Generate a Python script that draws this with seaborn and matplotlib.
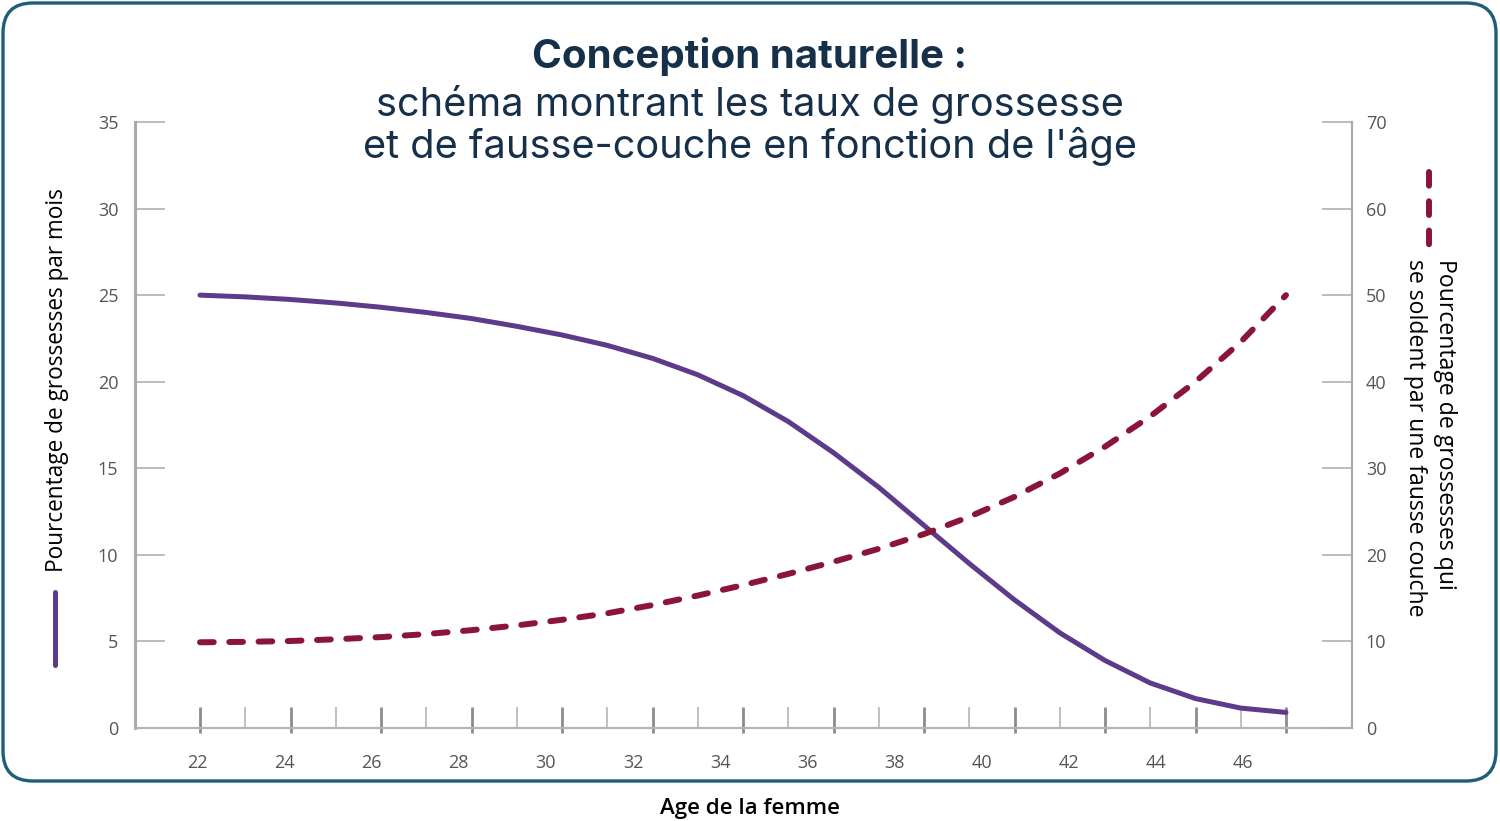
import numpy as np
import pandas as pd
import seaborn as sns
import matplotlib
matplotlib.use("Agg")
import matplotlib.pyplot as plt
from matplotlib.lines import Line2D
from matplotlib.patches import FancyBboxPatch
from matplotlib.transforms import IdentityTransform
from matplotlib import font_manager

# ---------------- data ----------------
ages = [22, 23, 24, 25, 26, 27, 28, 29, 30, 31, 32, 33, 34, 35, 36, 37, 38, 39, 40, 41, 42, 43, 44, 45, 46]
pregnancy_rate = [25.0, 24.9, 24.75, 24.55, 24.3, 24.0, 23.65, 23.2, 22.7, 22.1, 21.35, 20.4, 19.2, 17.7, 15.9,
                  13.9, 11.7, 9.5, 7.4, 5.5, 3.9, 2.6, 1.7, 1.15, 0.9]
miscarriage_rate = [9.9, 9.95, 10.05, 10.25, 10.5, 10.85, 11.3, 11.85, 12.5, 13.25, 14.2, 15.3, 16.5, 17.8, 19.2,
                    20.7, 22.4, 24.4, 26.7, 29.4, 32.5, 36.0, 40.0, 44.6, 50.0]
x_tick_labels = [22, 24, 26, 28, 30, 32, 34, 36, 38, 40, 42, 44, 46]
left_ticks = [0, 5, 10, 15, 20, 25, 30, 35]
right_ticks = [0, 10, 20, 30, 40, 50, 60, 70]

title = "Conception naturelle :"
subtitle1 = "schéma montrant les taux de grossesse"
subtitle2 = "et de fausse-couche en fonction de l'âge"
left_label = "Pourcentage de grossesses par mois"
right_label = "Pourcentage de grossesses qui\nse soldent par une fausse couche"
x_label = "Age de la femme"

df = pd.DataFrame({"age": ages, "preg": pregnancy_rate, "misc": miscarriage_rate})

# ---------------- style ----------------
sns.set_theme(style="white")
installed = {f.name for f in font_manager.fontManager.ttflist}
tick_font = "Liberation Sans Narrow" if "Liberation Sans Narrow" in installed else "Open Sans"
plt.rcParams["font.family"] = ["Open Sans", "DejaVu Sans"]

W, H = 1500, 821
fig = plt.figure(figsize=(W / 100, H / 100), dpi=100)
fig.patch.set_facecolor("white")

PURPLE = "#5b3b8a"
RED = "#8b1538"
NAVY = "#17304a"
TICKGRAY = "#555555"

def fx(px):
    return px / W

def fy(py):
    return 1 - py / H

# axes box: left spine x=135, right spine x=1352, bottom y=728, top y=122
ax = fig.add_axes([fx(135), fy(728), (1352 - 135) / W, (728 - 122) / H])
ax.set_facecolor("none")
px_per_year = 45.25
x0 = 22 + (135 - 200) / px_per_year
x1 = 22 + (1352 - 200) / px_per_year
ax.set_xlim(x0, x1)
ax.set_ylim(0, 35)

sns.lineplot(data=df, x="age", y="preg", ax=ax, color=PURPLE, linewidth=3.6,
             legend=False)
for ln in ax.get_lines():
    ln.set_solid_capstyle("round")
    ln.set_solid_joinstyle("round")

ax2 = ax.twinx()
ax2.set_ylim(0, 70)
sns.lineplot(data=df, x="age", y="misc", ax=ax2, color=RED, linewidth=4.3,
             legend=False)
for ln in ax2.get_lines():
    ln.set_dashes((2.3, 2.6))
    ln.set_dash_capstyle("round")
    ln.set_dash_joinstyle("round")

# spines
for a in (ax, ax2):
    a.spines["top"].set_visible(False)
    a.set_xlabel("")
    a.set_ylabel("")
ax.spines["right"].set_visible(False)
ax2.spines["left"].set_visible(False)
ax2.spines["bottom"].set_visible(False)
ax.spines["left"].set_color("#aaaaaa")
ax.spines["left"].set_linewidth(2.2)
ax.spines["bottom"].set_color("#b5b5b5")
ax.spines["bottom"].set_linewidth(1.6)
ax2.spines["right"].set_color("#aaaaaa")
ax2.spines["right"].set_linewidth(1.6)

# y ticks
ax.set_yticks(left_ticks)
ax.set_yticklabels([str(v) for v in left_ticks])
ax.tick_params(axis="y", direction="in", length=21.6, width=1.2, color="#b0b0b0",
               pad=12, labelsize=13, labelcolor=TICKGRAY, left=True)
ax2.set_yticks(right_ticks)
ax2.set_yticklabels([str(v) for v in right_ticks])
ax2.tick_params(axis="y", direction="in", length=21.6, width=1.2, color="#b0b0b0",
                pad=10, labelsize=13, labelcolor=TICKGRAY, right=True)
for lab in ax.get_yticklabels() + ax2.get_yticklabels():
    lab.set_family(tick_font)

# x ticks: labels (slightly drifting as in the source graphic) with no marks
label_scale = 87.2 / 90.5
label_pos = [22 + (-3 + (k - 22) * label_scale * px_per_year) / px_per_year for k in x_tick_labels]
ax.set_xticks(label_pos)
ax.set_xticklabels([str(k) for k in x_tick_labels])
ax.tick_params(axis="x", which="major", length=0, pad=19, labelsize=13, labelcolor=TICKGRAY,
               bottom=True)
for lab in ax.get_xticklabels():
    lab.set_family(tick_font)

# minor marks at odd ages
odd_ages = [a for a in ages if a % 2 == 1]
even_ages = [a for a in ages if a % 2 == 0]
ax.set_xticks(odd_ages, minor=True)
ax.tick_params(axis="x", which="minor", direction="in", length=15, width=1.2, color="#b5b5b5", bottom=True)

# major marks at even ages (cross the axis)
sec_in = ax.secondary_xaxis("bottom")
sec_in.set_xticks(even_ages)
sec_in.set_xticklabels([])
sec_in.tick_params(direction="in", length=15, width=2.0, color="#8c8c8c")
sec_in.spines["bottom"].set_visible(False)
sec_out = ax.secondary_xaxis("bottom")
sec_out.set_xticks(even_ages)
sec_out.set_xticklabels([])
sec_out.tick_params(direction="out", length=3.8, width=2.0, color="#8c8c8c")
sec_out.spines["bottom"].set_visible(False)

ax.grid(False)
ax2.grid(False)

# ---------------- texts ----------------
fig.text(0.5, fy(57), title, ha="center", va="center", fontsize=29, fontweight="bold",
         color=NAVY, family=["Inter", "DejaVu Sans"])
fig.text(0.5, fy(105), subtitle1, ha="center", va="center", fontsize=28.6,
         color=NAVY, family=["Inter", "DejaVu Sans"])
fig.text(0.5, fy(147), subtitle2, ha="center", va="center", fontsize=28.6,
         color=NAVY, family=["Inter", "DejaVu Sans"])

fig.text(fx(57), fy(380), left_label, rotation=90, ha="center", va="center",
         fontsize=16.3, color="black")
fig.text(fx(1430), fy(259), right_label, rotation=270, ha="center", va="top",
         multialignment="left", linespacing=1.3, fontsize=16.6, color="black")
fig.text(0.5, fy(808), x_label, ha="center", va="center", fontsize=16,
         fontweight="semibold", color="black")

# legend keys
fig.add_artist(Line2D([fx(55), fx(55)], [fy(592), fy(665)], color=PURPLE, linewidth=3.6,
                      solid_capstyle="round", transform=fig.transFigure))
fig.add_artist(Line2D([fx(1429), fx(1429)], [fy(172), fy(246)], color=RED, linewidth=4.3,
                      dashes=(2.3, 2.6), dash_capstyle="round", transform=fig.transFigure))

# rounded frame
frame = FancyBboxPatch((3, H - 781), 1493, 778, boxstyle="round,pad=0,rounding_size=30",
                       transform=IdentityTransform(), fill=False, edgecolor="#1f5e77",
                       linewidth=2.4)
fig.add_artist(frame)

fig.savefig("out.png", dpi=100, facecolor="white")
